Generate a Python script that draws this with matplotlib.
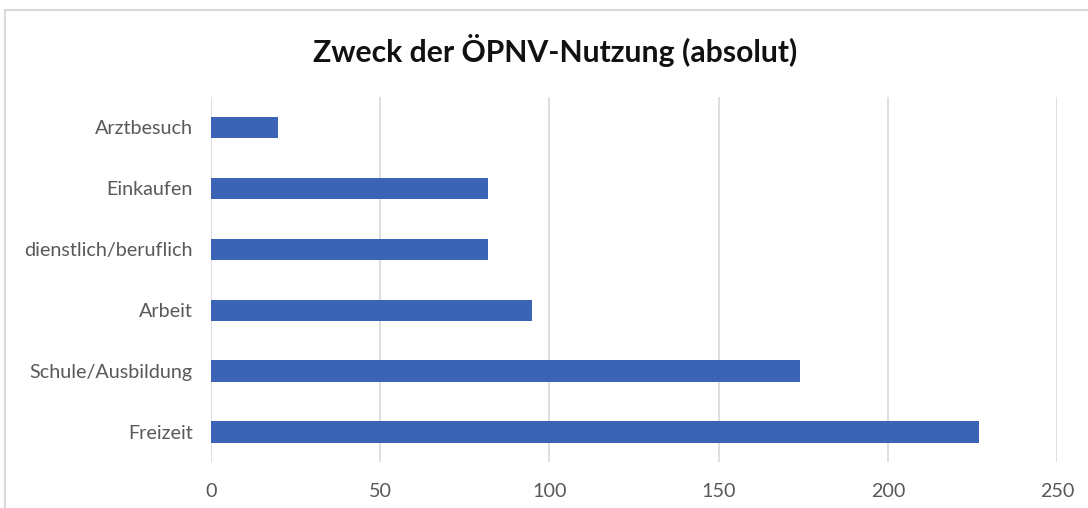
import matplotlib

matplotlib.use("Agg")
import matplotlib.pyplot as plt
from matplotlib.patches import Rectangle

categories = ["Freizeit", "Schule/Ausbildung", "Arbeit", "dienstlich/beruflich", "Einkaufen", "Arztbesuch"]
values = [227, 174, 95, 82, 82, 20]
x_ticks = [0, 50, 100, 150, 200, 250]
title = "Zweck der ÖPNV-Nutzung (absolut)"

bar_color = "#3C64B6"
grid_color = "#D9D9D9"
text_color = "#595959"

plt.rcParams["font.family"] = ["Lato", "DejaVu Sans"]

fig = plt.figure(figsize=(10.88, 5.08), dpi=100)
ax = fig.add_axes([0.1937, 0.0896, 0.7781, 0.7194])

y = list(range(len(categories)))
ax.barh(y, values, height=0.35, color=bar_color, zorder=3)

ax.set_xlim(0, 250)
ax.set_ylim(-0.5, len(categories) - 0.5)
ax.set_xticks(x_ticks)
ax.set_xticklabels([str(t) for t in x_ticks])
ax.set_yticks(y)
ax.set_yticklabels(categories)
ax.tick_params(axis="both", length=0, labelsize=14.2, colors=text_color)
ax.tick_params(axis="x", pad=15)
ax.tick_params(axis="y", pad=13)
ax.grid(axis="x", color=grid_color, linewidth=1.2, zorder=0)
for side in ["top", "right", "bottom", "left"]:
    ax.spines[side].set_visible(False)

fig.text(0.51, 0.9, title, ha="center", va="center", fontsize=21.7, fontweight="bold", color="#111111")

fig.patches.append(Rectangle((0.005, -0.1), 1.1, 1.08, transform=fig.transFigure,
                             fill=False, edgecolor="#D9D9D9", linewidth=1.5))

fig.savefig("out.png", dpi=100)
